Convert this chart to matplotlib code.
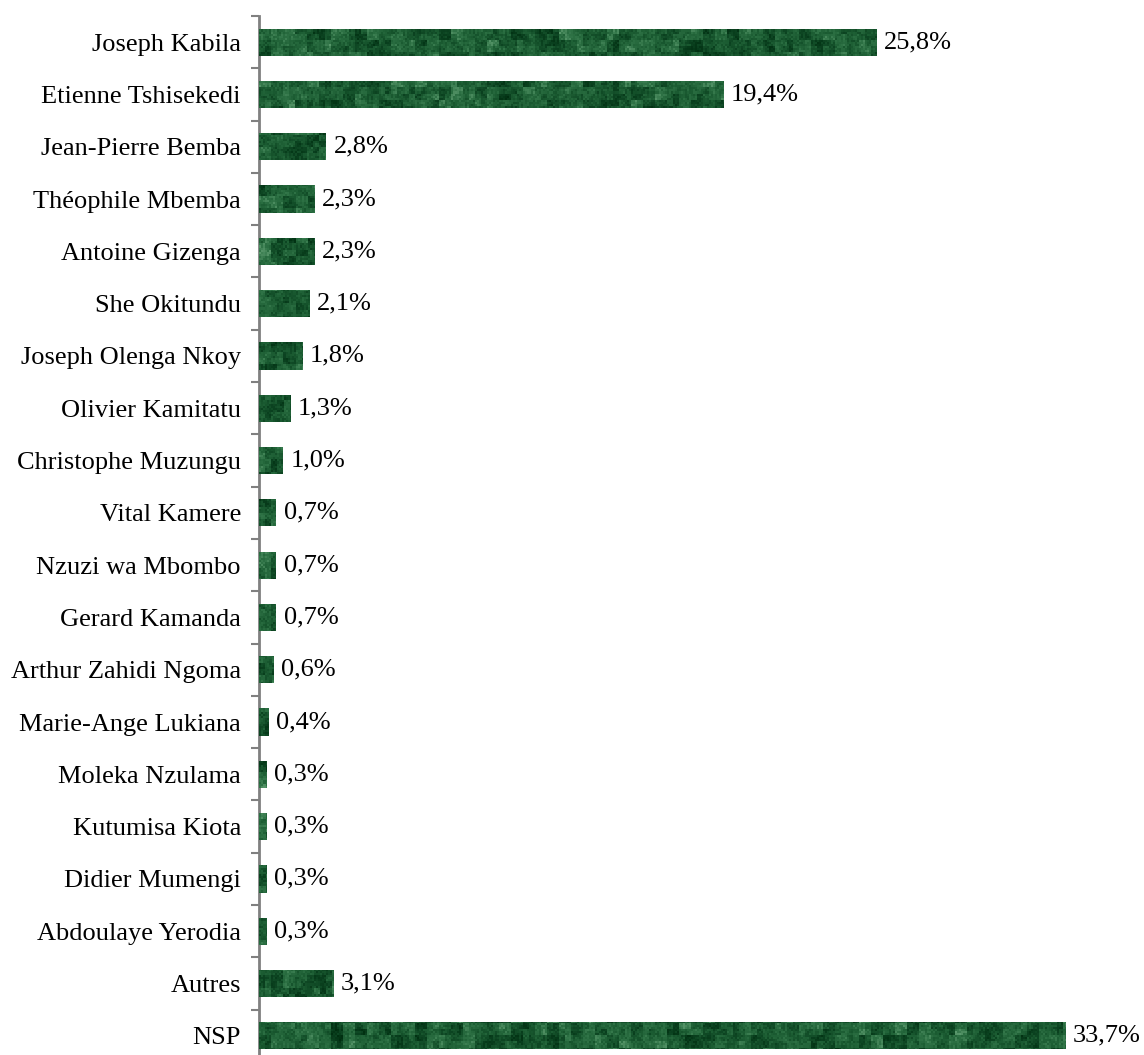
import numpy as np
import matplotlib
matplotlib.use("Agg")
import matplotlib.pyplot as plt
from matplotlib.colors import LinearSegmentedColormap

candidates = ["Joseph Kabila", "Etienne Tshisekedi", "Jean-Pierre Bemba", "Théophile Mbemba",
              "Antoine Gizenga", "She Okitundu", "Joseph Olenga Nkoy", "Olivier Kamitatu",
              "Christophe Muzungu", "Vital Kamere", "Nzuzi wa Mbombo", "Gerard Kamanda",
              "Arthur Zahidi Ngoma", "Marie-Ange Lukiana", "Moleka Nzulama", "Kutumisa Kiota",
              "Didier Mumengi", "Abdoulaye Yerodia", "Autres", "NSP"]
scores = [25.8, 19.4, 2.8, 2.3, 2.3, 2.1, 1.8, 1.3, 1.0, 0.7,
          0.7, 0.7, 0.6, 0.4, 0.3, 0.3, 0.3, 0.3, 3.1, 33.7]

plt.rcParams['font.family'] = ['Liberation Serif', 'DejaVu Serif']

W, H = 1144, 1055
top_px, step_px = 16, 52.3
n = len(candidates)
bottom_px = top_px + n * step_px
fig = plt.figure(figsize=(W / 100, H / 100), dpi=100)
ax = fig.add_axes([259 / W, (H - bottom_px) / H, 1 - 259 / W, (bottom_px - top_px) / H])

ypos = np.arange(n)
xmax = 37.0
bars = ax.barh(ypos, scores, height=0.52, color='#1f5a34', edgecolor='none', zorder=2)

# marble-like texture clipped to the bars (decoration only)
rng = np.random.default_rng(7)
th, tw = 523, 443  # about 2 screen pixels per texel


def layer(scale):
    small = rng.random((th // scale + 2, tw // scale + 2))
    big = np.kron(small, np.ones((scale, scale)))
    return big[:th, :tw]


tex = 0.45 * layer(6) + 0.3 * layer(3) + 0.25 * layer(1)
tex = (tex - tex.min()) / (tex.max() - tex.min())
cmap = LinearSegmentedColormap.from_list(
    'marble', ['#002e10', '#0b4220', '#1c5d33', '#2f7346', '#5c9a6e'])
for b in bars:
    im = ax.imshow(tex, cmap=cmap, aspect='auto', extent=(0, xmax, n - 0.5, -0.5),
                   interpolation='nearest', zorder=3)
    im.set_clip_path(b)

for y, v in zip(ypos, scores):
    ax.text(v + 0.33, y, f"{v:.1f}%".replace('.', ','), va='center', ha='left',
            fontsize=19, color='black', zorder=4)

ax.set_xlim(0, xmax)
ax.set_ylim(n - 0.5, -0.5)
ax.set_yticks(ypos)
ax.set_yticklabels(candidates, fontsize=19)
ax.tick_params(axis='y', which='major', length=0, pad=13)
ax.set_yticks(np.arange(n + 1) - 0.5, minor=True)
ax.tick_params(axis='y', which='minor', length=6, width=1.5, color='#808080', direction='out')
ax.set_xticks([])
for s in ['top', 'right', 'bottom']:
    ax.spines[s].set_visible(False)
ax.spines['left'].set_color('#808080')
ax.spines['left'].set_linewidth(2)
ax.set_facecolor('none')

fig.savefig('out.png', dpi=100)
